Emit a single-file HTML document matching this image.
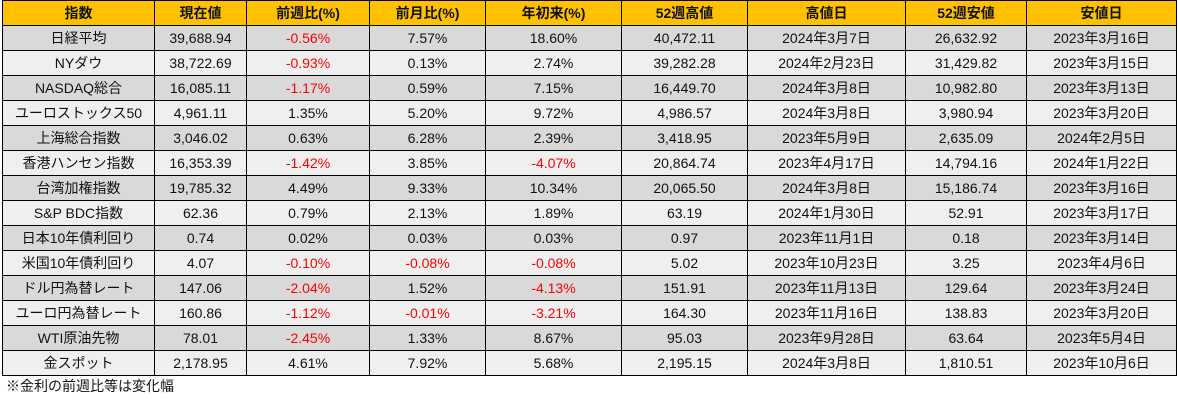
<!DOCTYPE html>
<html><head><meta charset="utf-8">
<style>
body{margin:0;width:1178px;height:401px;background:#fff;overflow:hidden;font-family:"Liberation Sans","Noto Sans CJK JP",sans-serif;}
table{position:absolute;left:2px;top:0;border-collapse:collapse;table-layout:fixed;}
td,th{border:1px solid #000;height:24px;padding:0;text-align:center;font-size:14px;color:#111;white-space:nowrap;overflow:hidden;line-height:24px;}
th{background:#ffc000;font-weight:bold;}
tr.d td{background:#d9d9d9;}
tr.l td{background:#efefef;}
.n{color:#ff0000 !important;}
#note{position:absolute;left:6px;top:376px;font-size:14px;line-height:20px;color:#111;}
</style></head><body>
<table>
<colgroup><col style="width:152px"><col style="width:92px"><col style="width:123px"><col style="width:116px"><col style="width:136px"><col style="width:126px"><col style="width:158px"><col style="width:121px"><col style="width:150px"></colgroup>
<thead><tr>
<th>指数</th>
<th>現在値</th>
<th>前週比(%)</th>
<th>前月比(%)</th>
<th>年初来(%)</th>
<th>52週高値</th>
<th>高値日</th>
<th>52週安値</th>
<th>安値日</th>
</tr></thead>
<tbody>
<tr class="d"><td>日経平均</td><td>39,688.94</td><td class="n">-0.56%</td><td>7.57%</td><td>18.60%</td><td>40,472.11</td><td>2024年3月7日</td><td>26,632.92</td><td>2023年3月16日</td></tr>
<tr class="l"><td>NYダウ</td><td>38,722.69</td><td class="n">-0.93%</td><td>0.13%</td><td>2.74%</td><td>39,282.28</td><td>2024年2月23日</td><td>31,429.82</td><td>2023年3月15日</td></tr>
<tr class="d"><td>NASDAQ総合</td><td>16,085.11</td><td class="n">-1.17%</td><td>0.59%</td><td>7.15%</td><td>16,449.70</td><td>2024年3月8日</td><td>10,982.80</td><td>2023年3月13日</td></tr>
<tr class="l"><td>ユーロストックス50</td><td>4,961.11</td><td>1.35%</td><td>5.20%</td><td>9.72%</td><td>4,986.57</td><td>2024年3月8日</td><td>3,980.94</td><td>2023年3月20日</td></tr>
<tr class="d"><td>上海総合指数</td><td>3,046.02</td><td>0.63%</td><td>6.28%</td><td>2.39%</td><td>3,418.95</td><td>2023年5月9日</td><td>2,635.09</td><td>2024年2月5日</td></tr>
<tr class="l"><td>香港ハンセン指数</td><td>16,353.39</td><td class="n">-1.42%</td><td>3.85%</td><td class="n">-4.07%</td><td>20,864.74</td><td>2023年4月17日</td><td>14,794.16</td><td>2024年1月22日</td></tr>
<tr class="d"><td>台湾加権指数</td><td>19,785.32</td><td>4.49%</td><td>9.33%</td><td>10.34%</td><td>20,065.50</td><td>2024年3月8日</td><td>15,186.74</td><td>2023年3月16日</td></tr>
<tr class="l"><td>S&amp;P BDC指数</td><td>62.36</td><td>0.79%</td><td>2.13%</td><td>1.89%</td><td>63.19</td><td>2024年1月30日</td><td>52.91</td><td>2023年3月17日</td></tr>
<tr class="d"><td>日本10年債利回り</td><td>0.74</td><td>0.02%</td><td>0.03%</td><td>0.03%</td><td>0.97</td><td>2023年11月1日</td><td>0.18</td><td>2023年3月14日</td></tr>
<tr class="l"><td>米国10年債利回り</td><td>4.07</td><td class="n">-0.10%</td><td class="n">-0.08%</td><td class="n">-0.08%</td><td>5.02</td><td>2023年10月23日</td><td>3.25</td><td>2023年4月6日</td></tr>
<tr class="d"><td>ドル円為替レート</td><td>147.06</td><td class="n">-2.04%</td><td>1.52%</td><td class="n">-4.13%</td><td>151.91</td><td>2023年11月13日</td><td>129.64</td><td>2023年3月24日</td></tr>
<tr class="l"><td>ユーロ円為替レート</td><td>160.86</td><td class="n">-1.12%</td><td class="n">-0.01%</td><td class="n">-3.21%</td><td>164.30</td><td>2023年11月16日</td><td>138.83</td><td>2023年3月20日</td></tr>
<tr class="d"><td>WTI原油先物</td><td>78.01</td><td class="n">-2.45%</td><td>1.33%</td><td>8.67%</td><td>95.03</td><td>2023年9月28日</td><td>63.64</td><td>2023年5月4日</td></tr>
<tr class="l"><td>金スポット</td><td>2,178.95</td><td>4.61%</td><td>7.92%</td><td>5.68%</td><td>2,195.15</td><td>2024年3月8日</td><td>1,810.51</td><td>2023年10月6日</td></tr>
</tbody></table>
<div id="note">※金利の前週比等は変化幅</div>
</body></html>
